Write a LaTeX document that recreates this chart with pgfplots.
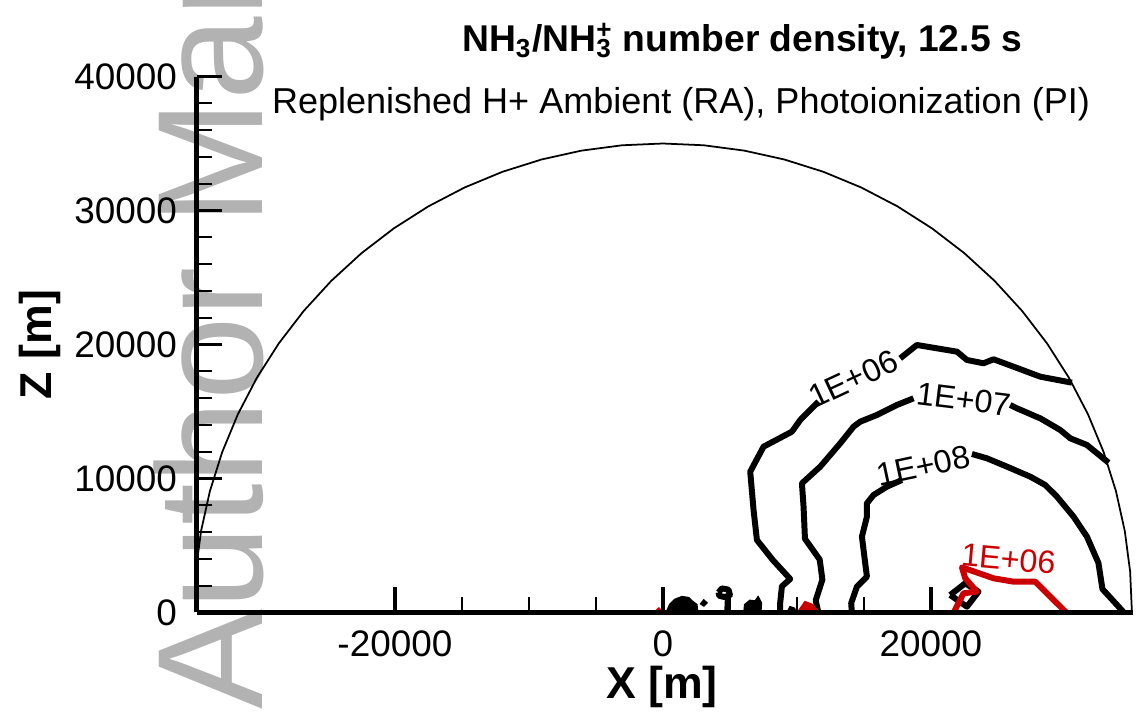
\documentclass[border=0pt]{standalone}
\usepackage{pgfplots}
\pgfplotsset{compat=1.18}
\usepackage{fontspec}
\setmainfont{Liberation Sans}
\definecolor{cred}{RGB}{204,0,0}
\definecolor{wmark}{RGB}{178,178,178}

\begin{document}
\begin{tikzpicture}
\useasboundingbox (0,0) rectangle (113.6mm,71.9mm);
\clip (0,0) rectangle (113.6mm,71.9mm);
% watermark
\node[rotate=90, anchor=base west, inner sep=0pt, text=wmark,
      font=\fontsize{42.7pt}{48pt}\selectfont] at (26.2mm,0.9mm) {Author Manuscript};

\begin{axis}[
  at={(19.66mm,10.65mm)}, anchor=south west,
  scale only axis, width=93.666mm, height=53.6mm,
  xmin=-34800, xmax=35100, ymin=0, ymax=40000,
  axis lines*=left,
  axis line style={line width=1.6pt},
  axis on top,
  scaled ticks=false,
  tick align=inside,
  xtick={-20000,0,20000}, xticklabels={-20000,0,20000},
  minor x tick num=3,
  ytick={0,10000,20000,30000,40000}, yticklabels={0,10000,20000,30000,40000},
  minor y tick num=4,
  major tick length=2.5mm, minor tick length=1.5mm,
  major tick style={line width=1.1pt, black},
  minor tick style={line width=0.6pt, black},
  tick label style={font=\fontsize{10.5pt}{12pt}\selectfont, inner sep=0pt},
  yticklabel style={anchor=east, xshift=-1.9mm},
  xticklabel style={anchor=north, yshift=-1.75mm},
  xlabel={X [m]}, ylabel={Z [m]},
  label style={font=\fontsize{12.7pt}{14pt}\selectfont\bfseries, inner sep=0pt},
  xlabel style={at={(axis description cs:0.4968,-0.1614)}, anchor=base},
  ylabel style={at={(axis description cs:-0.1544,0.5)}, anchor=base},
  contour/.style={line width=1.7pt, line join=round},
]
% domain boundary, r = 35 km
\addplot[black, line width=0.5pt] coordinates {
 (35000,0) (34867,3050) (34468,6078) (33807,9059) (32889,11971) (31721,14792)
 (30311,17500) (28670,20075) (26811,22498) (24749,24749) (22498,26811) (20075,28670)
 (17500,30311) (14792,31721) (11971,32889) (9059,33807) (6078,34468) (3050,34867)
 (0,35000) (-3050,34867) (-6078,34468) (-9059,33807) (-11971,32889) (-14792,31721)
 (-17500,30311) (-20075,28670) (-22498,26811) (-24749,24749) (-26811,22498) (-28670,20075)
 (-30311,17500) (-31721,14792) (-32889,11971) (-33807,9059) (-34468,6078) (-34867,3050)
 (-35000,0)
};

% 1E+06 (black)
\addplot[black, contour] coordinates {
 (8750,0) (8750,700) (8880,1950) (9500,2500) (8200,3918) (7015,5411) (6764,7650)
 (6515,10510) (7510,12375) (9627,13495) (10247,14366) (11614,15735)
};
\addplot[black, contour] coordinates {
 (17710,18970) (18955,19963) (21940,19466) (22687,18844) (23927,18597) (24673,18896)
 (26165,18345) (28158,17598) (30524,17150)
};
% 1E+07
\addplot[black, contour] coordinates {
 (11600,0) (11400,900) (11900,2450) (11700,3950) (10600,5500) (10495,7900)
 (10373,9640) (11740,10884) (13232,12625) (14227,13870) (14725,14241) (15970,14740)
 (17463,15486) (18705,15983)
};
\addplot[black, contour] coordinates {
 (25918,15486) (26418,15237) (28158,14490) (29650,13620) (30397,13000) (31643,12500)
 (33256,11180)
};
% 1E+08
\addplot[black, contour] coordinates {
 (14100,0) (14050,700) (14478,1927) (15224,2674) (15097,3670) (14851,5660)
 (15224,7150) (15224,8150) (15717,8769) (16717,9390) (17836,9888)
};
\addplot[black, contour] coordinates {
 (23061,11829) (24180,11505) (25673,10884) (27412,10137) (28531,9515) (29404,8645)
 (30643,7150) (31643,5660) (32500,3700) (32800,1750) (34400,0)
};
% small closed contour
\addplot[black, contour] coordinates {
 (21440,1306) (22560,2179) (23553,1552) (22687,433) (21440,1306)
};
% small patches near the surface
\addplot[black, fill=black, line width=0.8pt] coordinates {
 (300,0) (545,560) (918,933) (1418,1134) (1910,1060) (2164,806) (2485,560) (2537,0)
} -- cycle;
\addplot[black, fill=black, line width=0.6pt] coordinates {
 (2850,650) (3050,900) (3250,720) (3050,520)
} -- cycle;
\addplot[black, contour] coordinates {
 (4150,1500) (4400,1800) (4900,1700) (5000,1300) (4600,1150) (4200,1250) (4150,1500)
};
\addplot[black, contour] coordinates {(4850,1200) (4800,0)};
\addplot[black, fill=black, line width=0.8pt] coordinates {
 (6100,0) (6150,560) (6500,850) (6900,800) (7100,1080) (7300,700) (7250,0)
} -- cycle;
\addplot[black, fill=black, line width=0.6pt] coordinates {
 (9300,0) (9500,400) (9800,300) (9900,0)
} -- cycle;
% 1E+06 (red)
\addplot[cred, contour] coordinates {
 (21700,0) (22434,1433) (23434,1552) (22560,2552) (22314,3373) (24673,2552)
 (26165,2300) (27785,2300) (30100,0)
};
\addplot[cred, fill=cred, line width=0.8pt] coordinates {
 (10100,0) (10620,750) (11120,560) (11600,0)
} -- cycle;
\addplot[cred, fill=cred, line width=0.6pt] coordinates {
 (-650,0) (-300,300) (0,0)
} -- cycle;

\node[rotate=25, inner sep=0pt, font=\fontsize{9.2pt}{10pt}\selectfont] at (axis cs:14200,17450) {1E+06};
\node[rotate=-7, inner sep=0pt, font=\fontsize{9.2pt}{10pt}\selectfont] at (axis cs:22430,15900) {1E+07};
\node[rotate=12, inner sep=0pt, font=\fontsize{9.2pt}{10pt}\selectfont] at (axis cs:19450,10950) {1E+08};
\node[rotate=-5, inner sep=0pt, text=cred, font=\fontsize{9.2pt}{10pt}\selectfont] at (axis cs:25790,3990) {1E+06};
\end{axis}

\node[anchor=base, inner sep=0pt, font=\fontsize{10.6pt}{12pt}\selectfont\bfseries]
  at (74.2mm,66.7mm) {NH\textsubscript{3}/NH\rlap{\textsuperscript{+}}\textsubscript{3} number density, 12.5 s};
\node[anchor=base, inner sep=0pt, font=\fontsize{10.25pt}{12pt}\selectfont]
  at (68.1mm,60.5mm) {Replenished H+ Ambient (RA), Photoionization (PI)};
\end{tikzpicture}
\end{document}
